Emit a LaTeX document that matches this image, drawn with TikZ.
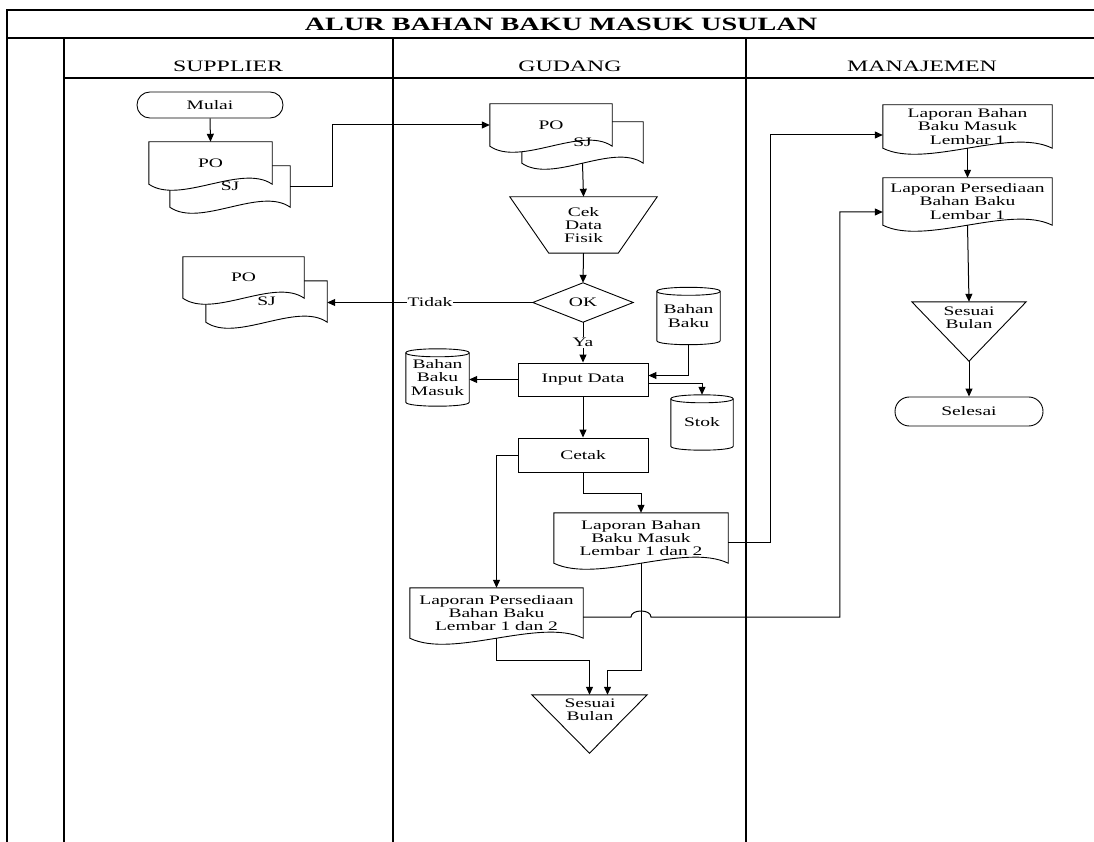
\documentclass[tikz,border=0pt]{standalone}
\usepackage{fontspec}
\setmainfont{Liberation Serif}[FakeStretch=1.5]
\usetikzlibrary{calc,arrows.meta,backgrounds}

\newcommand\flowfont{\fontsize{13}{13.2}\selectfont}
\newcommand\lanefont{\fontsize{15.9}{17}\selectfont}
\newcommand\titlefont{\fontsize{18.8}{20}\selectfont\bfseries}

% document symbol with a wavy lower edge
\newcommand\docoutline[1]{%
  \draw[outline] (#1.north west) -- (#1.north east) -- (#1.south east)
    .. controls ($(#1.south)!0.5!(#1.south east)+(0,-21)$) and ($(#1.south west)!0.5!(#1.south)+(0,21)$) .. (#1.south west) -- cycle;}
% stored-data cylinder
\newcommand\cylinderoutline[1]{%
  \draw[outline] ($(#1.north west)+(0,4)$) -- ($(#1.south west)+(0,-4)$)
    .. controls ($(#1.south west)+(0,1.33)$) and ($(#1.south east)+(0,1.33)$) .. ($(#1.south east)+(0,-4)$)
    -- ($(#1.north east)+(0,4)$)
    .. controls ($(#1.north east)+(0,-1.33)$) and ($(#1.north west)+(0,-1.33)$) .. cycle;
  \draw[outline, fill=none] ($(#1.north west)+(0,4)$)
    .. controls ($(#1.north west)+(0,9.33)$) and ($(#1.north east)+(0,9.33)$) .. ($(#1.north east)+(0,4)$);}

\tikzset{
  shapebox/.style={draw=none, inner sep=1pt, align=center, font=\flowfont},
  outline/.style={line width=0.9pt, fill=white},
  flow/.style={line width=1pt, -{Triangle[length=8pt,width=7pt]}},
  link/.style={line width=1pt},
  lanerule/.style={line width=1.8pt},
  cut/.style={fill=white, inner sep=1pt, font=\flowfont},
  terminal/.style={shapebox, draw, line width=0.9pt, rounded corners=12.9pt},
  process/.style={shapebox, draw, line width=0.9pt},
}

\begin{document}
\begin{tikzpicture}[x=1pt, y=-1pt]
\useasboundingbox (0,0) rectangle (1094,842);

% ---------- swimlane frame ----------
\draw[lanerule] (7,842) -- (7,10) -- (1094,10);
\draw[lanerule] (7,38) -- (1094,38);
\draw[line width=1.2pt] (64,78) -- (1094,78);
\draw[lanerule] (64,38) -- (64,842);
\draw[lanerule] (393,38) -- (393,842);
\draw[lanerule] (746,38) -- (746,842);

\node[font=\titlefont] (title) at (561,24) {ALUR BAHAN BAKU MASUK USULAN};
\node[font=\lanefont, anchor=base] (hsup) at (228,72) {SUPPLIER};
\node[font=\lanefont, anchor=base] (hgud) at (570,72) {GUDANG};
\node[font=\lanefont, anchor=base] (hman) at (922,72) {MANAJEMEN};

% ---------- SUPPLIER ----------
\node[terminal, minimum width=146, minimum height=26] (mulai) at (210,105) {Mulai};
\node[shapebox, minimum width=120, minimum height=41] (sup1back) at (230,186.5) {SJ};
\node[shapebox, minimum width=123, minimum height=42] (sup1front) at (210.5,163) {PO};
\node[shapebox, minimum width=121, minimum height=41] (sup2back) at (266.5,301.5) {SJ};
\node[shapebox, minimum width=121, minimum height=41] (sup2front) at (243.5,277.5) {PO};

% ---------- GUDANG ----------
\node[shapebox, minimum width=121, minimum height=41] (gudback) at (582.5,142.5) {SJ};
\node[shapebox, minimum width=122, minimum height=42] (gudfront) at (551,125) {PO};
\node[shapebox, minimum width=147, minimum height=56] (cek) at (583.5,225) {Cek\\Data\\Fisik};
\node[shapebox, minimum width=100, minimum height=39] (ok) at (583,302.5) {OK};
\node[process, minimum width=130, minimum height=33] (input) at (583,379.5) {Input Data};
\node[process, minimum width=130, minimum height=34] (cetak) at (583,455) {Cetak};
\node[shapebox, minimum width=63, minimum height=57] (bbm) at (437.5,377.5) {Bahan\\Baku\\Masuk};
\node[shapebox, minimum width=63, minimum height=57] (bb) at (688.5,316) {Bahan\\Baku};
\node[shapebox, minimum width=62, minimum height=55] (stok) at (702,422.5) {Stok};
\node[shapebox, minimum width=174, minimum height=50] (lbbm2) at (641,538) {Laporan Bahan\\Baku Masuk\\Lembar 1 dan 2};
\node[shapebox, minimum width=173, minimum height=50] (lpbb2) at (496.5,613) {Laporan Persediaan\\Bahan Baku\\Lembar 1 dan 2};
\node[shapebox, minimum width=115, minimum height=58] (sbg) at (589.5,724) {};
\node[shapebox] (sbgtext) at (590,710) {Sesuai\\Bulan};

% ---------- MANAJEMEN ----------
\node[shapebox, minimum width=169, minimum height=43] (lbbm1) at (967.5,126.5) {Laporan Bahan\\Baku Masuk\\Lembar 1};
\node[shapebox, minimum width=169, minimum height=47] (lpbb1) at (967.5,201.5) {Laporan Persediaan\\Bahan Baku\\Lembar 1};
\node[shapebox, minimum width=114, minimum height=59] (sbm) at (969,331.5) {};
\node[shapebox] (sbmtext) at (969,318) {Sesuai\\Bulan};
\node[terminal, minimum width=148, minimum height=29, rounded corners=14.4pt] (selesai) at (969,411.5) {Selesai};

% ---------- symbol outlines ----------
\begin{scope}[on background layer]
  \docoutline{sup1back}
  \docoutline{sup1front}
  \docoutline{sup2back}
  \docoutline{sup2front}
  \docoutline{gudback}
  \docoutline{gudfront}
  \docoutline{lbbm2}
  \docoutline{lpbb2}
  \docoutline{lbbm1}
  \docoutline{lpbb1}
  \draw[outline] (cek.north west) -- (cek.north east) -- ($(cek.south east)+(-39,0)$) -- ($(cek.south west)+(39,0)$) -- cycle;
  \draw[outline] (ok.north) -- (ok.east) -- (ok.south) -- (ok.west) -- cycle;
  \draw[outline] (sbg.north west) -- (sbg.north east) -- (sbg.south) -- cycle;
  \draw[outline] (sbm.north west) -- (sbm.north east) -- (sbm.south) -- cycle;
  \cylinderoutline{bbm}
  \cylinderoutline{bb}
  \cylinderoutline{stok}
\end{scope}

% ---------- connectors ----------
\draw[flow] (mulai.south) -- (sup1front.north);
\draw[flow] (sup1back.east) -- ++(42,0) |- (gudfront.west);
\draw[flow] (gudback.south) -- (cek.north);
\draw[flow] (cek.south) -- (ok.north);
\draw[flow] (ok.west) -- node[cut] (tidak) {Tidak} (ok.west -| sup2back.east);
\draw[flow] (ok.south) -- node[cut] (ya) {Ya} (input.north);
\draw[flow] (input.west) -- (input.west -| bbm.east);
\draw[flow] (bb.south) |- ($(input.east)+(0,-4)$);
\draw[flow] ($(input.east)+(0,4)$) -| (stok.north);
\draw[flow] (input.south) -- (cetak.north);
\draw[flow] (cetak.west) -| (lpbb2.north);
\draw[flow] (cetak.south) -- ++(0,21) -| (lbbm2.north);
\draw[flow] ($(lbbm2.east)+(0,4)$) -- ++(42,0) |- ($(lbbm1.west)+(0,8.5)$);
\draw[flow] (lbbm1.south) -- (lpbb1.north);
\coordinate (lp2e) at ($(lpbb2.east)+(0,4)$);
\coordinate (hop) at (lp2e -| lbbm2.south);
\coordinate (turn) at ($(lpbb1.west)+(-43,10.5)$);
\draw[flow] (lp2e) -- ($(hop)+(-10,0)$)
  .. controls ($(hop)+(-10,-8)$) and ($(hop)+(10,-8)$) .. ($(hop)+(10,0)$)
  -| (turn) -- ($(lpbb1.west)+(0,10.5)$);
\draw[flow] (lpbb1.south) -- (sbm.north);
\draw[flow] (sbm.south) -- (selesai.north);
\draw[flow] (lpbb2.south) -- ++(0,22) -| (sbg.north);
\draw[flow] (lbbm2.south) -- ++(0,107) -| ($(sbg.north)+(18,0)$);

\end{tikzpicture}
\end{document}
